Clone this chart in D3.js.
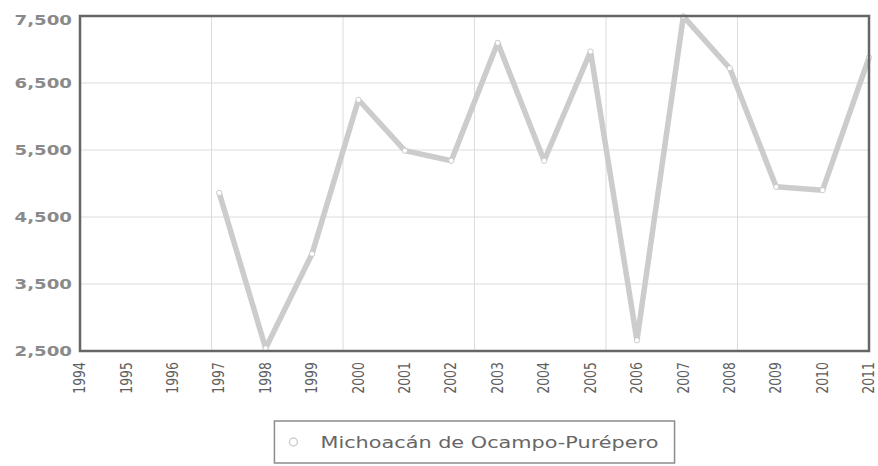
<!DOCTYPE html>
<html>
<head>
<meta charset="utf-8">
<script src="https://cdn.jsdelivr.net/npm/d3@7"></script>
<style>
	html, body { margin: 0; padding: 0; background: #fff; }
	svg { display: block; font-family: "DejaVu Sans", Verdana, sans-serif; }
</style>
</head>
<body>
<div id="content-wrapper"></div>
<script>

/***********************************************************************/
//Data
/***********************************************************************/
const years = [1994, 1995, 1996, 1997, 1998, 1999, 2000, 2001, 2002,
	2003, 2004, 2005, 2006, 2007, 2008, 2009, 2010, 2011]
const values = [null, null, null, 4860, 2540, 3950, 6250, 5490, 5340,
	7100, 5340, 6970, 2660, 7495, 6720, 4950, 4900, 6880]
const yTickValues = [2500, 3500, 4500, 5500, 6500, 7500]
const seriesName = 'Michoacán de Ocampo-Purépero'

const points = years.map((year, i) => ({ year, value : values[i] }))
	.filter(d => d.value !== null)

/***********************************************************************/
//Plot Area
/***********************************************************************/
const width = 878
const height = 466
const margin = {
	left : 80,
	right : 9,
	top : 16,
	bottom : 115
}

const plotAreaWidth = width - margin.left - margin.right
const plotAreaHeight = height - margin.top - margin.bottom

// the picture is stretched sideways, so the glyphs are too
const stretch = 1.3

const svg = d3.select('#content-wrapper')
	.append('svg')
	.attr('width', width)
	.attr('height', height)

const g = svg.append('g')
	.attr('transform', 'translate(' + margin.left + ',' + margin.top + ')')

/***********************************************************************/
//Scale
/***********************************************************************/
const xScale = d3.scaleLinear()
	.domain(d3.extent(years))
	.range([0, plotAreaWidth])

const yScale = d3.scaleLinear()
	.domain(d3.extent(yTickValues))
	.range([plotAreaHeight, 0])

/***********************************************************************/
//Grid
/***********************************************************************/
const gGrid = g.append('g').attr('class', 'grid')

gGrid.selectAll('.h-line')
	.data(yTickValues)
	.join('line')
	.attr('x1', 0)
	.attr('x2', plotAreaWidth)
	.attr('y1', d => yScale(d))
	.attr('y2', d => yScale(d))
	.attr('stroke', '#dcdcdc')
	.attr('stroke-width', 1)

// vertical grid splits the plot in six, not on the years
gGrid.selectAll('.v-line')
	.data(d3.range(1, 6))
	.join('line')
	.attr('x1', d => d * plotAreaWidth / 6)
	.attr('x2', d => d * plotAreaWidth / 6)
	.attr('y1', 0)
	.attr('y2', plotAreaHeight)
	.attr('stroke', '#dcdcdc')
	.attr('stroke-width', 1)

/***********************************************************************/
//Axes
/***********************************************************************/
const yAxis = d3.axisLeft(yScale)
	.tickValues(yTickValues)
	.tickFormat(d3.format(','))
	.tickSize(0)

const yAxisG = g.append('g').call(yAxis)
yAxisG.select('.domain').remove()
yAxisG.selectAll('text')
	.attr('x', 0)
	.attr('dy', (d, i, n) => i === n.length - 1 ? '0.6em' : '0.35em')
	.attr('transform', 'translate(-8,0) scale(' + stretch + ',1)')
	.attr('fill', '#8a8a8a')
	.attr('font-weight', 'bold')
	.style('font-size', '14px')
	.style('font-family', '"DejaVu Sans", Verdana, sans-serif')

const xAxis = d3.axisBottom(xScale)
	.tickValues(years)
	.tickFormat(d => d)
	.tickSize(0)

const xAxisG = g.append('g')
	.attr('transform', 'translate(0,' + plotAreaHeight + ')')
	.call(xAxis)
xAxisG.select('.domain').remove()
xAxisG.selectAll('text')
	.attr('x', 0)
	.attr('y', 0)
	.attr('dy', '0.35em')
	.attr('text-anchor', 'end')
	.attr('transform', 'translate(-1,11) scale(' + stretch + ',1) rotate(-90)')
	.attr('fill', '#5e5e5e')
	.style('font-size', '12.5px')
	.style('font-family', '"DejaVu Sans", Verdana, sans-serif')

/***********************************************************************/
//Plotting
/***********************************************************************/
const line = d3.line()
	.x(d => xScale(d.year))
	.y(d => yScale(d.value))

g.append('path')
	.datum(points)
	.attr('fill', 'none')
	.attr('stroke', '#cccccc')
	.attr('stroke-width', 5.5)
	.attr('stroke-linejoin', 'round')
	.attr('stroke-linecap', 'round')
	.attr('d', line)

g.selectAll('.dot')
	.data(points)
	.join('circle')
	.attr('class', 'dot')
	.attr('cx', d => xScale(d.year))
	.attr('cy', d => yScale(d.value))
	.attr('r', 2.6)
	.attr('fill', '#fff')
	.attr('stroke', '#c4c4c4')
	.attr('stroke-width', 0.8)

// frame goes on top
g.append('rect')
	.attr('x', 0)
	.attr('y', 0)
	.attr('width', plotAreaWidth)
	.attr('height', plotAreaHeight)
	.attr('fill', 'none')
	.attr('stroke', '#666')
	.attr('stroke-width', 2.5)

/***********************************************************************/
//Legend
/***********************************************************************/
const legend = svg.append('g')
	.attr('class', 'legend')

const legendBox = legend.append('rect')
	.attr('fill', '#fff')
	.attr('stroke', '#8c8c8c')
	.attr('stroke-width', 1.5)

const legendText = legend.append('text')
	.attr('x', 0)
	.attr('y', 0)
	.attr('fill', '#666')
	.style('font-size', '16px')
	.text(seriesName)

const textWidth = legendText.node().getComputedTextLength() * stretch
const boxWidth = textWidth + 62
const boxX = margin.left + plotAreaWidth / 2 - boxWidth / 2
const boxY = 421

legendBox
	.attr('x', boxX)
	.attr('y', boxY)
	.attr('width', boxWidth)
	.attr('height', 42)

legendText
	.attr('transform', 'translate(' + (boxX + 46) + ',' + (boxY + 27) + ') scale(' + stretch + ',1)')

legend.append('circle')
	.attr('cx', boxX + 19)
	.attr('cy', boxY + 21)
	.attr('r', 4)
	.attr('fill', '#fff')
	.attr('stroke', '#cfcfcf')
	.attr('stroke-width', 1.5)

</script>
</body>
</html>
